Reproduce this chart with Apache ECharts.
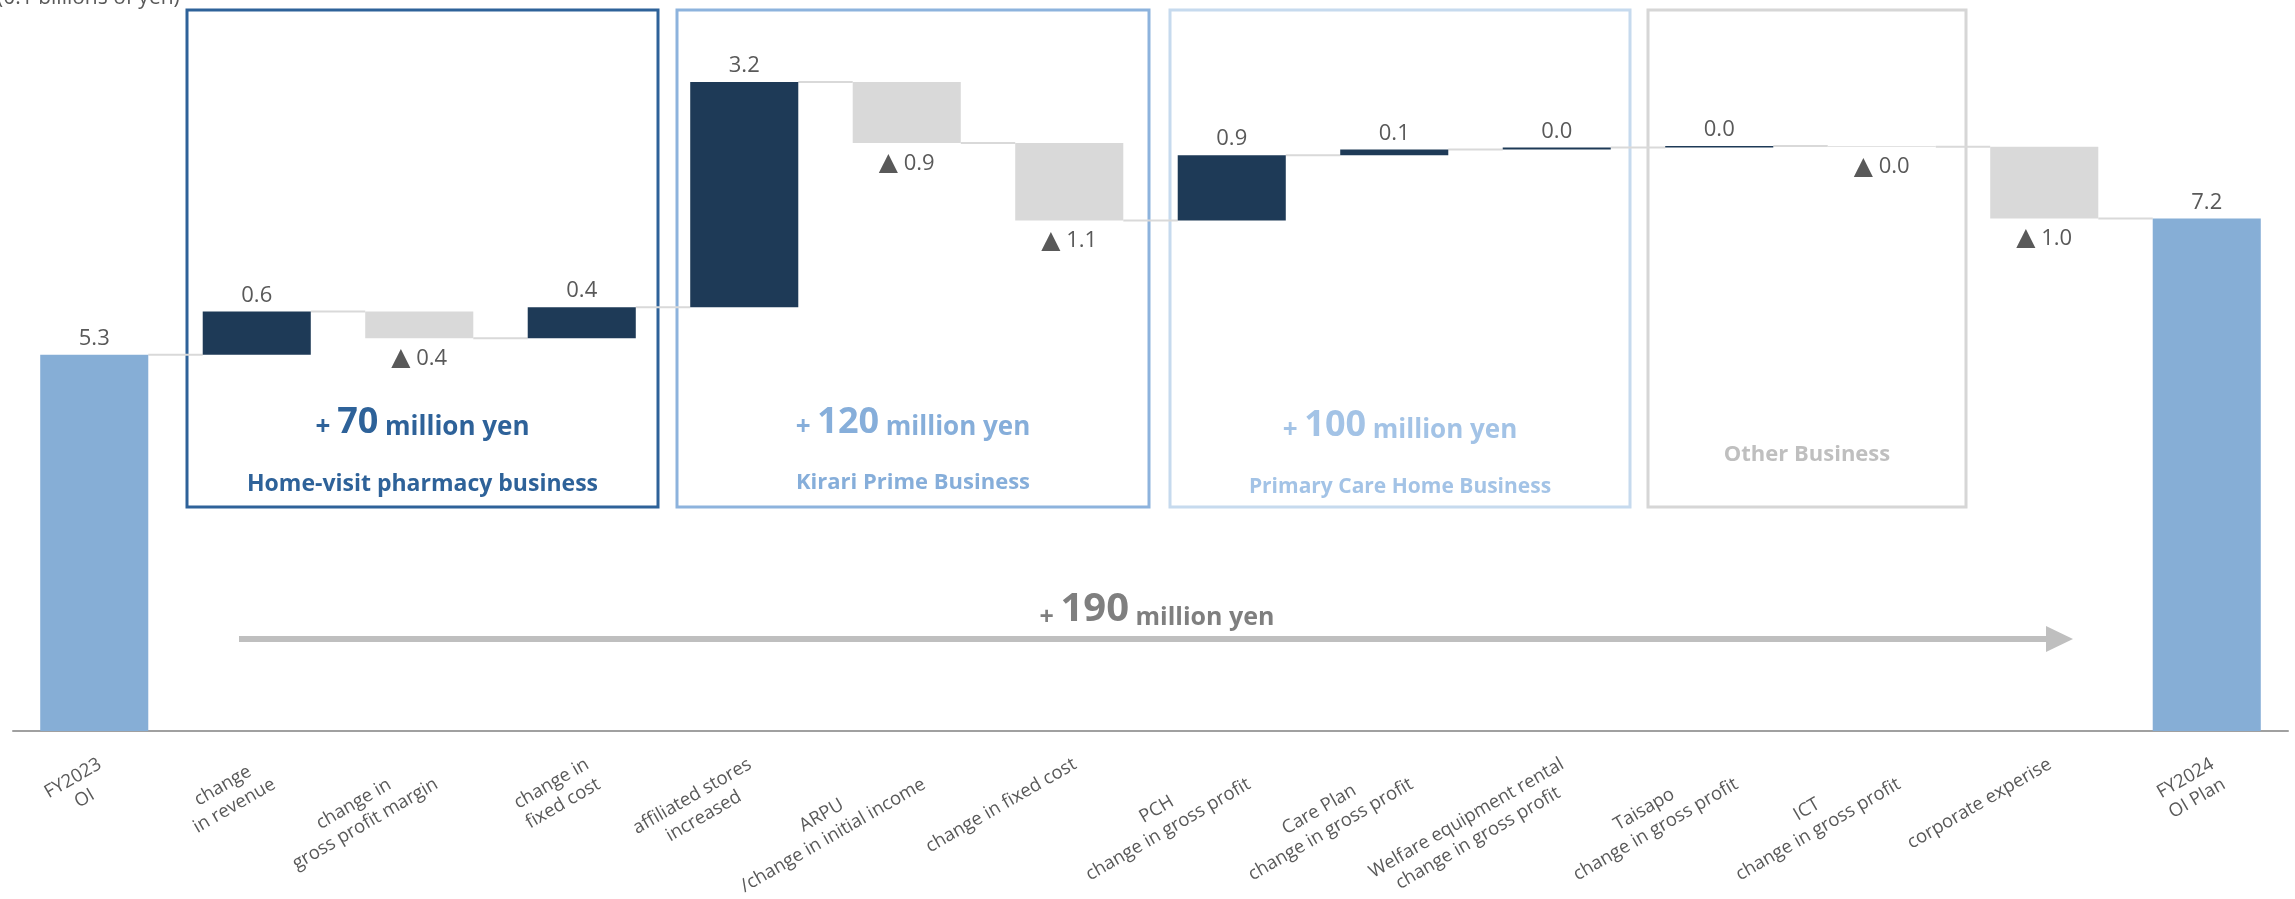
<!DOCTYPE html>
<html><head><meta charset="utf-8">
<script src="https://cdn.jsdelivr.net/npm/echarts@6/dist/echarts.min.js"></script>
<style>html,body{margin:0;padding:0;background:#fff}#c{width:2295px;height:899px}</style>
</head><body><div id="c"></div>
<script>
const categories = ['FY2023\nOI','change\nin revenue','change in\ngross profit margin','change in\nfixed cost','affiliated stores\nincreased','ARPU\n/change in initial income','change in fixed cost','PCH\nchange in gross profit','Care Plan\nchange in gross profit','Welfare equipment rental\nchange in gross profit','Taisapo\nchange in gross profit','ICT\nchange in gross profit','corporate experise','FY2024\nOI Plan'];
const startValue = 5.30;
const changes = [0.61, -0.38, 0.44, 3.17, -0.86, -1.09, 0.92, 0.08, 0.03, 0.02, -0.01, -1.01];
const endValue = 7.22;
const groupNames = ['Home-visit pharmacy business', 'Kirari Prime Business', 'Primary Care Home Business', 'Other Business'];
const groupTotals = ['70', '120', '100'];
const overallTotal = '190';
const unitText = '(0.1 billions of yen)';

const FONT = 'Open Sans';
const C_POS = '#1E3A57', C_NEG = '#D9D9D9', C_TOT = '#86AED6', C_TXT = '#595959';

// build waterfall
const base = [0], vis = [], levels = [startValue];
vis.push({value: startValue, itemStyle: {color: C_TOT}, label: {position: 'top'}});
let cur = startValue;
changes.forEach(d => {
  const nxt = cur + d;
  base.push(Math.min(cur, nxt));
  vis.push({value: Math.abs(d), itemStyle: {color: d >= 0 ? C_POS : C_NEG},
            label: {position: d >= 0 ? 'top' : 'bottom', distance: d >= 0 ? 5 : 8}});
  cur = nxt;
  levels.push(cur);
});
base.push(0);
vis.push({value: endValue, itemStyle: {color: C_TOT}, label: {position: 'top'}});
const connectors = levels.map((v, i) => [i, v]);

const labelTexts = [startValue.toFixed(1)].concat(
  changes.map(d => d >= 0 ? Math.abs(d).toFixed(1) : '{t|▲} ' + Math.abs(d).toFixed(1)),
  [endValue.toFixed(1)]);

const BW = 0.665;
const chart = echarts.init(document.getElementById('c'), null, {renderer: 'canvas'});

function richMix(num, big, small, color) {
  return {
    text: '{s|+ }{b|' + num + '}{s| million yen}',
    rich: {
      s: {fontSize: small, fontWeight: 'bold', fontFamily: FONT, fill: color, verticalAlign: 'bottom', lineHeight: big * 1.2},
      b: {fontSize: big, fontWeight: 'bold', fontFamily: FONT, fill: color, verticalAlign: 'bottom', lineHeight: big * 1.2}
    }
  };
}

const boxes = [
  {x: 187, w: 471, stroke: '#2E6299', text: '#2E6299', ty: 419, ny: 484, fs: 23},
  {x: 677, w: 472, stroke: '#8DB3DD', text: '#86AEDA', ty: 419, ny: 483, fs: 22},
  {x: 1170, w: 460, stroke: '#C6DAEE', text: '#A3C3E6', ty: 422, ny: 487, fs: 21},
  {x: 1648, w: 318, stroke: '#D6D6D6', text: '#BFBFBF', ty: 455, ny: 455, fs: 22}
];
const graphics = [];
boxes.forEach((b, i) => {
  graphics.push({type: 'rect', z: 1, shape: {x: b.x, y: 10, width: b.w, height: 497},
                 style: {fill: 'none', stroke: b.stroke, lineWidth: 3}});
  const cx = b.x + b.w / 2;
  if (i < 3) {
    const m = richMix(groupTotals[i], 36, 26, b.text);
    graphics.push({type: 'text', z: 5, x: cx, y: b.ty,
      style: Object.assign({align: 'center', verticalAlign: 'middle'}, m)});
  }
  graphics.push({type: 'text', z: 5, x: cx, y: b.ny,
    style: {text: groupNames[i], fill: b.text, font: 'bold ' + b.fs + 'px "' + FONT + '"', align: 'center', verticalAlign: 'middle'}});
});
// overall arrow
graphics.push({type: 'line', z: 1, shape: {x1: 239, y1: 639, x2: 2050, y2: 639}, style: {stroke: '#BFBFBF', lineWidth: 6}});
graphics.push({type: 'polygon', z: 1, shape: {points: [[2046, 626], [2073, 639], [2046, 652]]}, style: {fill: '#BFBFBF'}});
const om = richMix(overallTotal, 40, 25, '#7F7F7F');
graphics.push({type: 'text', z: 5, x: 1157, y: 606, style: Object.assign({align: 'center', verticalAlign: 'middle'}, om)});
graphics.push({type: 'text', z: 5, x: -3, y: 9, style: {text: unitText, fill: C_TXT, font: '21px "' + FONT + '"', align: 'left', verticalAlign: 'bottom'}});

const option = {
  backgroundColor: '#ffffff',
  animation: false,
  grid: {left: 13, right: 7, top: 21, bottom: 168, containLabel: false, outerBoundsMode: 'none'},
  xAxis: {
    type: 'category', data: categories,
    axisTick: {show: false},
    axisLine: {lineStyle: {color: '#A0A0A0', width: 2}},
    axisLabel: {
      interval: 0, rotate: 30, margin: 22, align: 'right', verticalAlign: 'top',
      formatter: v => v.split('\n').map(l => '{c|' + l + '}').join('\n'),
      rich: {c: {align: 'center', fontSize: 18.5, lineHeight: 23, color: C_TXT, fontFamily: FONT}}
    },
    splitLine: {show: false}
  },
  yAxis: {type: 'value', min: 0, max: 10, show: false, splitLine: {show: false}},
  series: [
    {
      type: 'custom', z: 1, data: connectors,
      renderItem: (params, api) => {
        const i = api.value(0), v = api.value(1);
        const p1 = api.coord([i, v]), p2 = api.coord([i + 1, v]);
        const bw = api.size([1, 0])[0] * BW;
        return {type: 'line', shape: {x1: p1[0] + bw / 2, y1: p1[1], x2: p2[0] - bw / 2, y2: p1[1]},
                style: {stroke: '#D9D9D9', lineWidth: 2}};
      },
      silent: true
    },
    {type: 'bar', stack: 'wf', barWidth: (BW * 100) + '%', data: base, itemStyle: {color: 'transparent'}, silent: true, z: 2},
    {type: 'bar', stack: 'wf', barWidth: (BW * 100) + '%', data: vis, z: 3,
     label: {show: true, fontSize: 22, color: C_TXT, fontFamily: FONT,
             formatter: p => labelTexts[p.dataIndex],
             rich: {t: {fontSize: 25, color: C_TXT, fontFamily: 'DejaVu Sans', verticalAlign: 'bottom'}}}}
  ],
  graphic: graphics
};
chart.setOption(option);
</script></body></html>
